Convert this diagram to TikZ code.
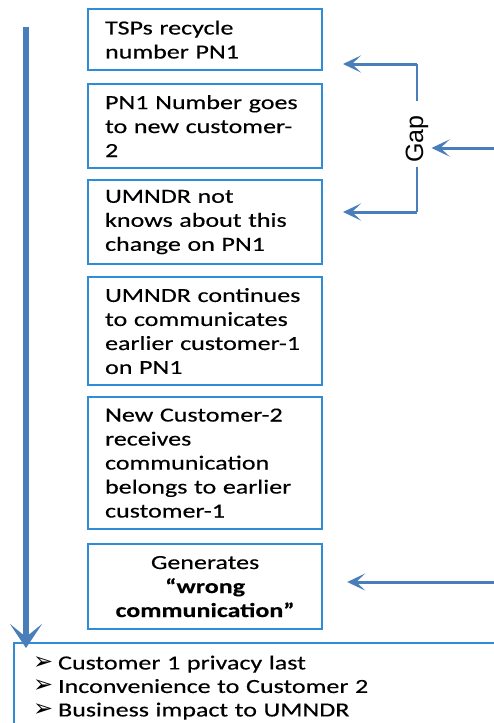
\documentclass[tikz,border=0pt]{standalone}
\usepackage{fontspec}
\setmainfont[FakeStretch=1.3,FakeBold=0.3]{Carlito}
\newfontfamily\symfont{DejaVu Sans}
\newfontfamily\gapfont{Liberation Sans}
\usetikzlibrary{arrows.meta}

\definecolor{boxblue}{RGB}{48,140,215}
\definecolor{arrblue}{RGB}{74,126,187}

\tikzset{
  stepbox/.style={draw=boxblue, line width=2.2pt, fill=white, anchor=north west,
    minimum width=234pt, text width=200pt, inner xsep=17pt, inner ysep=0pt,
    align=left, font=\fontsize{20}{24}\selectfont},
  flowarrow/.style={draw=arrblue, line width=3pt,
    -{Stealth[length=18pt,width=17pt,inset=9pt]}},
  bigarrow/.style={draw=arrblue, line width=6pt,
    -{Stealth[length=24pt,width=32pt,inset=13pt]}},
  bracket/.style={draw=arrblue, line width=2pt},
}
\newcommand{\bulletmark}{\makebox[25pt][l]{\symfont\fontsize{24}{24}\selectfont ➢}}

\begin{document}
\begin{tikzpicture}[x=1pt,y=-1pt]
\useasboundingbox (0,0) rectangle (494,723);

% process steps
\node[stepbox, minimum height=61pt] (b1) at (87,8)
  {TSPs recycle\\number PN1};
\node[stepbox, minimum height=84pt] (b2) at (87,83)
  {PN1 Number goes\\to new customer-\\2};
\node[stepbox, minimum height=84pt] (b3) at (87,179)
  {UMNDR not\\knows about this\\change on PN1};
\node[stepbox, minimum height=108pt] (b4) at (87,276)
  {UMNDR continues\\to communicates\\earlier customer-1\\on PN1};
\node[stepbox, minimum height=132pt] (b5) at (87,396)
  {New Customer-2\\receives\\communication\\belongs to earlier\\customer-1};
\node[stepbox, minimum height=85pt, align=center] (b6) at (87,543)
  {Generates\\\textbf{“wrong}\\\textbf{communication”}};

% consequences
\node[draw=boxblue, line width=2.2pt, fill=white, anchor=north west,
  minimum width=500pt, minimum height=89pt, text width=462pt,
  inner xsep=19pt, inner ysep=0pt, align=left,
  font=\fontsize{20}{23.5}\selectfont] (list) at (13,642)
  {\bulletmark Customer 1 privacy last\\
   \bulletmark Inconvenience to Customer 2\\
   \bulletmark Business impact to UMNDR};

% time line
\coordinate (vtop) at (26,27);
\draw[bigarrow] (vtop) -- ([yshift=-6pt]vtop |- list.north);

% gap bracket
\node[rotate=90, inner sep=3pt, font=\gapfont\fontsize{25}{30}\selectfont] (gap) at (417,139) {Gap};
\coordinate (gt) at (417,101);
\coordinate (gb) at (417,167);
\coordinate (tipa) at (343,64);
\coordinate (tipb) at (343,212);
\coordinate (gin) at (500,148);
\draw[bracket] (gt) -- (gt |- tipa);
\draw[bracket] (gb) -- (gb |- tipb);
\draw[flowarrow] (gt |- tipa) -- (tipa);
\draw[flowarrow] (gb |- tipb) -- (tipb);
\draw[flowarrow] (gin) -- (gin -| gap.south);

% arrow into the result box
\coordinate (rin) at (500,582);
\draw[flowarrow] (rin) -- ([xshift=24pt]b6.east |- rin);
\end{tikzpicture}
\end{document}
